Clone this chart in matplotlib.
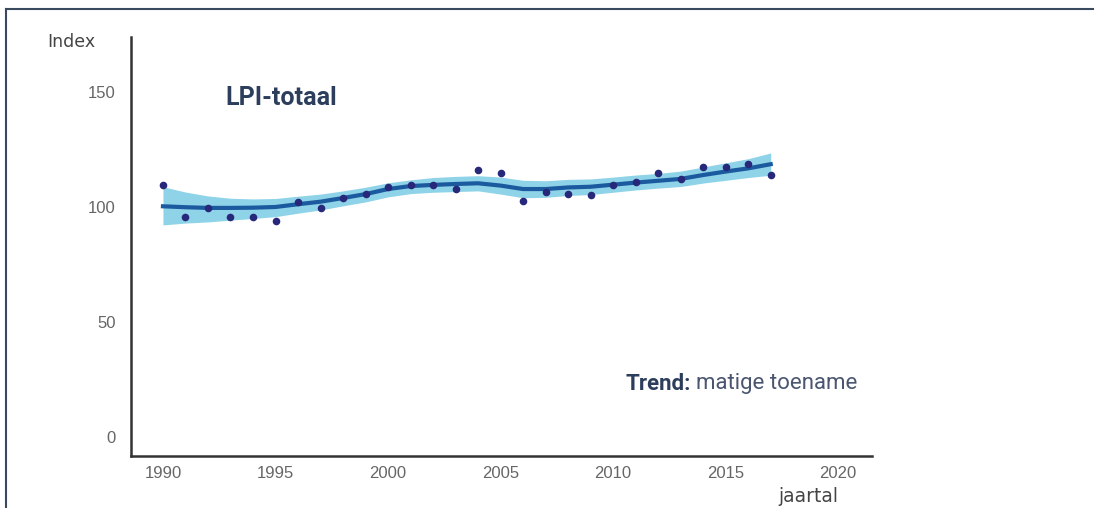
import matplotlib
matplotlib.use("Agg")
import matplotlib.pyplot as plt
from matplotlib.lines import Line2D

years = list(range(1990, 2018))
index_values = [109.6, 95.7, 99.6, 95.7, 95.7, 93.9, 102.2, 99.6, 103.9, 105.7,
                108.7, 109.6, 109.6, 107.8, 116.1, 114.8, 102.6, 106.5, 105.7, 105.2,
                109.6, 110.9, 114.8, 112.2, 117.4, 117.4, 118.7, 113.9]
trend = [100.3, 99.9, 99.6, 99.6, 99.7, 100.0, 101.2, 102.3, 103.9, 105.6,
         107.8, 109.1, 109.6, 110.0, 110.3, 109.3, 107.8, 107.8, 108.5, 108.8,
         109.7, 110.6, 111.4, 112.2, 113.9, 115.4, 116.8, 118.6]
upper = [108.8, 106.5, 104.8, 103.8, 103.5, 103.7, 104.7, 105.6, 107.0, 108.6,
         110.5, 111.8, 112.8, 113.3, 113.6, 113.0, 111.6, 111.4, 112.0, 112.2,
         113.0, 113.9, 114.6, 115.6, 117.4, 119.2, 121.0, 123.5]
lower = [92.2, 93.0, 93.5, 94.3, 95.0, 95.8, 97.3, 98.7, 100.5, 102.2,
         104.4, 105.8, 106.4, 106.7, 107.0, 105.6, 104.0, 104.2, 105.0, 105.4,
         106.4, 107.4, 108.2, 108.9, 110.4, 111.6, 112.8, 113.8]
x_ticks = [1990, 1995, 2000, 2005, 2010, 2015, 2020]
y_ticks = [0, 50, 100, 150]

fig = plt.figure(figsize=(10.94, 5.08), dpi=100)
ax = fig.add_axes([131/1094, 52/508, 741/1094, 419/508])

ax.fill_between(years, lower, upper, color="#8fd3e8", lw=0, zorder=1)
ax.plot(years, trend, color="#1b5a9e", lw=3, zorder=2)
ax.scatter(years, index_values, s=30, color="#27287a", zorder=3, lw=0)

ax.set_xlim(1988.58, 2021.5)
ax.set_ylim(-8.26, 173.9)
ax.set_xticks(x_ticks)
ax.set_yticks(y_ticks)
ax.tick_params(length=0, labelsize=12, labelcolor="#666666")
ax.tick_params(axis="x", pad=7)
ax.tick_params(axis="y", pad=11)
for lab in ax.get_xticklabels() + ax.get_yticklabels():
    lab.set_family("Liberation Sans")
for s in ["top", "right"]:
    ax.spines[s].set_visible(False)
for s in ["left", "bottom"]:
    ax.spines[s].set_color("#333333")
    ax.spines[s].set_linewidth(1.8)

fig.text(47/1094, 1 - 42/508, "Index", fontsize=12.5, color="#444444",
         family="DejaVu Sans", va="center", ha="left")
fig.text(838/1094, 1 - 496/508, "jaartal", fontsize=13.5, color="#444444",
         family="DejaVu Sans", va="center", ha="right")
fig.text(225/1094, 1 - 98/508, "LPI-totaal", fontsize=18, color="#2c3e5c",
         family="Roboto", weight="bold", va="center", ha="left")
t1 = fig.text(625/1094, 1 - 384/508, "Trend:", fontsize=16, color="#2c3e5c",
              family="Roboto", weight="bold", va="center", ha="left")
fig.canvas.draw()
bb = t1.get_window_extent()
fig.text((bb.x1 + 6)/1094, 1 - 384/508, "matige toename", fontsize=16, color="#4a5670",
         family="Roboto", va="center", ha="left")

fig.add_artist(Line2D([6/1094, 1], [1 - 9/508, 1 - 9/508], transform=fig.transFigure,
                      color="#3a4a5e", lw=1.5))
fig.add_artist(Line2D([6/1094, 6/1094], [0, 1 - 9/508], transform=fig.transFigure,
                      color="#3a4a5e", lw=1.5))

fig.savefig("out.png", dpi=100)
